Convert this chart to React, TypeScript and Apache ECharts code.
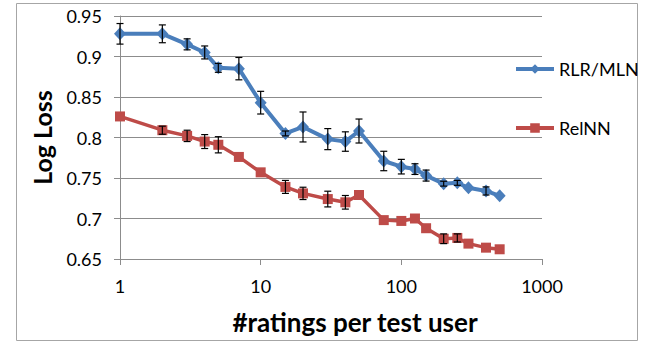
import React, { useEffect, useRef } from "react";
import * as echarts from "echarts";

const ratings = [1, 2, 3, 4, 5, 7, 10, 15, 20, 30, 40, 50, 75, 100, 125, 150, 200, 250, 300, 400, 500];
const rlrMln = [0.928, 0.928, 0.915, 0.905, 0.886, 0.885, 0.843, 0.805, 0.813, 0.798, 0.795, 0.808, 0.771, 0.764, 0.761, 0.753, 0.743, 0.744, 0.738, 0.734, 0.728];
const rlrMlnErr = [0.0127, 0.011, 0.0068, 0.008, 0.0055, 0.0138, 0.014, 0.003, 0.0185, 0.013, 0.012, 0.0148, 0.012, 0.009, 0.0066, 0.0068, 0.003, 0.003, 0, 0.005, 0];
const relNN = [0.826, 0.809, 0.802, 0.795, 0.791, 0.776, 0.757, 0.739, 0.731, 0.724, 0.72, 0.729, 0.698, 0.697, 0.7, 0.688, 0.675, 0.676, 0.669, 0.664, 0.662];
const relNNErr = [0, 0.005, 0.007, 0.0086, 0.01, 0, 0, 0.008, 0.0076, 0.0097, 0.0084, 0, 0, 0, 0, 0, 0.006, 0.005, 0, 0, 0];
const seriesNames = ["RLR/MLN", "RelNN"];
const yTicks = { min: 0.65, max: 0.95, interval: 0.05 };
const xRange = { min: 1, max: 1000 };

const FONT = "Lato";
const BLUE = "#4A7EBB";
const RED = "#BE4B48";
const GRID = "#8C8C8C";

function errData(vals: number[], errs: number[]) {
  return ratings.map((x, i) => [x, vals[i], errs[i]]);
}

function errSeries(vals: number[], errs: number[]) {
  return {
    type: "custom",
    data: errData(vals, errs),
    dimensions: ["x", "y", "e"],
    encode: { x: 0, y: 1 },
    z: 5,
    silent: true,
    renderItem: (params: any, api: any) => {
      const x = api.value(0);
      const y = api.value(1);
      const e = api.value(2);
      if (!e) return null;
      const t = api.coord([x, y + e]);
      const b = api.coord([x, y - e]);
      const w = 3.5;
      const st = { stroke: "#000", lineWidth: 1.2 };
      return {
        type: "group",
        children: [
          { type: "line", shape: { x1: t[0], y1: t[1], x2: b[0], y2: b[1] }, style: st },
          { type: "line", shape: { x1: t[0] - w, y1: t[1], x2: t[0] + w, y2: t[1] }, style: st },
          { type: "line", shape: { x1: b[0] - w, y1: b[1], x2: b[0] + w, y2: b[1] }, style: st },
        ],
      };
    },
  };
}

export default function App() {
  const ref = useRef<HTMLDivElement>(null);
  useEffect(() => {
    if (!ref.current) return;
    const chart = echarts.init(ref.current, null, { renderer: "svg" });
    chart.setOption({
      animation: false,
      backgroundColor: "#fff",
      textStyle: { fontFamily: FONT },
      graphic: [
        {
          type: "rect",
          shape: { x: 16.5, y: 3.5, width: 621, height: 337 },
          style: { fill: "none", stroke: "#A6A6A6", lineWidth: 1 },
          silent: true,
          z: -10,
        },
      ],
      grid: { left: 120, right: 122, top: 16, bottom: 91 },
      legend: {
        orient: "vertical",
        left: 514,
        top: 60,
        padding: 0,
        itemGap: 41,
        itemWidth: 38,
        itemHeight: 12,
        lineStyle: { width: 4 },
        textStyle: { fontFamily: FONT, fontSize: 18, color: "#000" },
        data: seriesNames,
      },
      xAxis: {
        type: "log",
        logBase: 10,
        min: xRange.min,
        max: xRange.max,
        name: "#ratings per test user",
        nameLocation: "middle",
        nameGap: 50,
        nameTextStyle: {
          fontFamily: FONT,
          fontSize: 26,
          fontWeight: "bold",
          color: "#000",
          verticalAlign: "top",
          padding: [0, 0, 0, 48],
        },
        axisLine: { show: true, lineStyle: { color: GRID, width: 1 } },
        axisTick: { show: true, length: 6, lineStyle: { color: GRID } },
        minorTick: { show: false },
        splitLine: { show: false },
        axisLabel: {
          fontFamily: FONT,
          fontSize: 18,
          color: "#000",
          margin: 18,
          formatter: (v: number) => String(Math.round(v)),
        },
      },
      yAxis: {
        type: "value",
        min: yTicks.min,
        max: yTicks.max,
        interval: yTicks.interval,
        name: "Log Loss",
        nameLocation: "middle",
        nameGap: 66,
        nameTextStyle: { fontFamily: FONT, fontSize: 25, fontWeight: "bold", color: "#000" },
        axisLine: { show: true, lineStyle: { color: GRID, width: 1 } },
        axisTick: { show: true, length: 6, lineStyle: { color: GRID } },
        splitLine: { show: true, lineStyle: { color: GRID, width: 1 } },
        axisLabel: {
          fontFamily: FONT,
          fontSize: 18,
          color: "#000",
          margin: 18,
          formatter: (v: number) => String(parseFloat(v.toFixed(2))),
        },
      },
      series: [
        {
          name: seriesNames[0],
          type: "line",
          data: ratings.map((x, i) => [x, rlrMln[i]]),
          symbol: "diamond",
          symbolSize: [12, 13],
          lineStyle: { color: BLUE, width: 4 },
          itemStyle: { color: BLUE },
          z: 3,
        },
        {
          name: seriesNames[1],
          type: "line",
          data: ratings.map((x, i) => [x, relNN[i]]),
          symbol: "rect",
          symbolSize: 10,
          lineStyle: { color: RED, width: 3.5 },
          itemStyle: { color: RED },
          z: 3,
        },
        errSeries(rlrMln, rlrMlnErr),
        errSeries(relNN, relNNErr),
      ],
    });
    return () => chart.dispose();
  }, []);
  return <div ref={ref} style={{ position: "fixed", left: 0, top: 0, width: 664, height: 350 }} />;
}
